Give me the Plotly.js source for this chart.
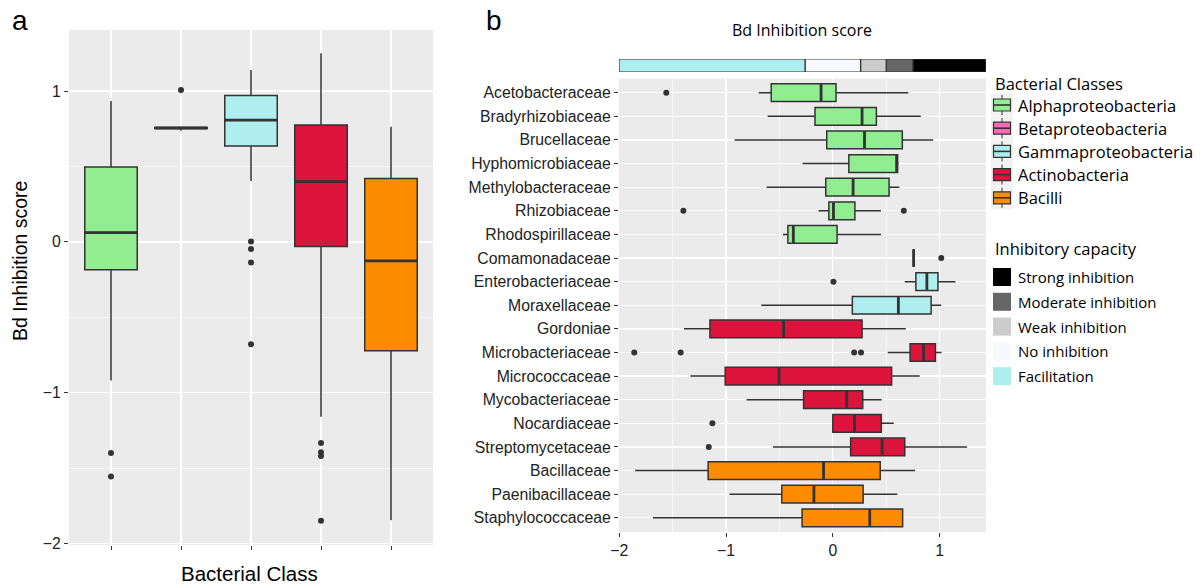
<!DOCTYPE html>
<html><head><meta charset="utf-8">
<script src="https://cdn.plot.ly/plotly-3.0.1.min.js"></script>
<style>html,body{margin:0;padding:0;background:#fff}#chart{width:1200px;height:585px}</style>
</head><body><div id="chart"></div>
<script>
// ---------- Panel a: Bacterial classes ----------
const classNames = ['Alphaproteobacteria','Betaproteobacteria','Gammaproteobacteria','Actinobacteria','Bacilli'];
const classColors = ['#90EE90','#FF69B4','#AFEEEE','#DC143C','#FF8C00'];
const classQ1     = [-0.185, 0.752, 0.636, -0.031, -0.722];
const classMedian = [ 0.062, 0.755, 0.808,  0.400, -0.126];
const classQ3     = [ 0.497, 0.758, 0.971,  0.775,  0.420];
const classLower  = [-0.920, 0.737, 0.404, -1.160, -1.846];
const classUpper  = [ 0.934, 0.758, 1.140,  1.250,  0.764];
const classOutliers = [[-1.40,-1.556],[1.007],[0.002,-0.048,-0.137,-0.678],[-1.333,-1.395,-1.42,-1.85],[]];

// ---------- Panel b: Bacterial families ----------
const families = ['Acetobacteraceae','Bradyrhizobiaceae','Brucellaceae','Hyphomicrobiaceae','Methylobacteraceae','Rhizobiaceae','Rhodospirillaceae','Comamonadaceae','Enterobacteriaceae','Moraxellaceae','Gordoniae','Microbacteriaceae','Micrococcaceae','Mycobacteriaceae','Nocardiaceae','Streptomycetaceae','Bacillaceae','Paenibacillaceae','Staphylococcaceae'];
const familyClass = [0,0,0,0,0,0,0,1,2,2,3,3,3,3,3,3,4,4,4];
const famQ1     = [-0.577,-0.167,-0.057,0.150,-0.066,-0.037,-0.421,0.757,0.778,0.183,-1.151,0.724,-1.008,-0.274,0.000,0.167,-1.168,-0.478,-0.288];
const famMedian = [-0.110,0.274,0.297,0.598,0.190,0.006,-0.370,0.757,0.881,0.614,-0.461,0.851,-0.504,0.130,0.204,0.461,-0.087,-0.177,0.346];
const famQ3     = [0.030,0.408,0.651,0.607,0.527,0.207,0.040,0.757,0.985,0.921,0.274,0.961,0.551,0.280,0.454,0.674,0.444,0.284,0.654];
const famLower  = [-0.694,-0.611,-0.921,-0.284,-0.621,-0.134,-0.467,0.757,0.674,-0.671,-1.395,0.514,-1.335,-0.808,0.000,-0.561,-1.852,-0.968,-1.686];
const famUpper  = [0.707,0.824,0.941,0.617,0.624,0.451,0.451,0.757,1.149,1.015,0.684,1.018,0.814,0.457,0.571,1.258,0.771,0.604,0.660];
const famOutliers = [[-1.56],[],[],[],[],[-1.40,0.665],[],[1.016],[0.006],[],[],[-1.86,-1.425,0.20,0.264],[],[],[-1.128],[-1.162],[],[],[]];

// ---------- Inhibitory capacity scale ----------
const capLabels = ['Strong inhibition','Moderate inhibition','Weak inhibition','No inhibition','Facilitation'];
const capColors = ['#000000','#666666','#CCCCCC','#F8F8FF','#AFEEEE'];
const capFrom   = [0.75, 0.50, 0.26, -0.26, -2.003];
const capTo     = [1.435, 0.75, 0.50, 0.26, -0.26];

const LINE = '#333333';
const BOXW = 0.75;
const axisFont = {family:'Liberation Sans, Arial, sans-serif', size:15.8, color:'#222222'};
const legFont = 'Open Sans, sans-serif';
const PX = x => x/1200;
const PY = y => 1 - y/585;

const traces = [];

// Panel a boxes
classNames.forEach((n,i)=>{
  traces.push({type:'box', xaxis:'x', yaxis:'y', x:[i+1], q1:[classQ1[i]], median:[classMedian[i]], q3:[classQ3[i]],
    lowerfence:[classLower[i]], upperfence:[classUpper[i]], width:BOXW, whiskerwidth:0,
    fillcolor:classColors[i], line:{color:LINE,width:1.5}, showlegend:false, hoverinfo:'skip'});
});
// Panel a thick medians and outliers
(function(){
  const mx=[], my=[];
  classMedian.forEach((m,i)=>{ mx.push(i+1-BOXW/2, i+1+BOXW/2, null); my.push(m,m,null); });
  traces.push({type:'scatter', mode:'lines', xaxis:'x', yaxis:'y', x:mx, y:my, line:{color:LINE,width:2.8}, showlegend:false, hoverinfo:'skip'});
  const ox=[], oy=[];
  classOutliers.forEach((arr,i)=>arr.forEach(v=>{ox.push(i+1); oy.push(v);}));
  traces.push({type:'scatter', mode:'markers', xaxis:'x', yaxis:'y', x:ox, y:oy, marker:{color:LINE,size:6}, showlegend:false, hoverinfo:'skip'});
})();

// Panel b boxes, one trace per class
classNames.forEach((n,c)=>{
  const idx = families.map((f,i)=>i).filter(i=>familyClass[i]===c);
  traces.push({type:'box', orientation:'h', xaxis:'x2', yaxis:'y2', y:idx.map(i=>i+1),
    q1:idx.map(i=>famQ1[i]), median:idx.map(i=>famMedian[i]), q3:idx.map(i=>famQ3[i]),
    lowerfence:idx.map(i=>famLower[i]), upperfence:idx.map(i=>famUpper[i]), width:BOXW, whiskerwidth:0,
    fillcolor:classColors[c], line:{color:LINE,width:1.5}, showlegend:false, hoverinfo:'skip'});
});
(function(){
  const mx=[], my=[];
  famMedian.forEach((m,i)=>{ my.push(i+1-BOXW/2, i+1+BOXW/2, null); mx.push(m,m,null); });
  traces.push({type:'scatter', mode:'lines', xaxis:'x2', yaxis:'y2', x:mx, y:my, line:{color:LINE,width:2.8}, showlegend:false, hoverinfo:'skip'});
  const ox=[], oy=[];
  famOutliers.forEach((arr,i)=>arr.forEach(v=>{oy.push(i+1); ox.push(v);}));
  traces.push({type:'scatter', mode:'markers', xaxis:'x2', yaxis:'y2', x:ox, y:oy, marker:{color:LINE,size:6}, showlegend:false, hoverinfo:'skip'});
})();

// Inhibition scale bar
traces.push({type:'bar', orientation:'h', xaxis:'x3', yaxis:'y3', y:capLabels.map(()=>0), base:capFrom,
  x:capFrom.map((f,i)=>capTo[i]-f), width:1, marker:{color:capColors, line:{color:LINE,width:1.2}},
  cliponaxis:false, showlegend:false, hoverinfo:'skip'});

const gridMajor = {showgrid:true, gridcolor:'#FFFFFF', gridwidth:1.3, zeroline:false, showline:false,
  ticks:'outside', ticklen:4, tickwidth:1, tickcolor:LINE, tickfont:axisFont};
const minorGrid = v => ({tickvals:v, showgrid:true, gridcolor:'#FFFFFF', gridwidth:0.6, ticks:''});

const layout = {
  width:1200, height:585, margin:{l:0,r:0,t:0,b:0}, paper_bgcolor:'#FFFFFF', plot_bgcolor:'#EBEBEB',
  showlegend:false, barmode:'overlay',
  xaxis: Object.assign({}, gridMajor, {domain:[PX(69),PX(433)], range:[0.4,5.6], tickmode:'array',
    tickvals:[1,2,3,4,5], ticktext:['','','','',''], anchor:'y'}),
  yaxis: Object.assign({}, gridMajor, {domain:[PY(545),PY(30)], range:[-2.01,1.405], tickmode:'array',
    tickvals:[-2,-1,0,1], minor:minorGrid([-1.5,-0.5,0.5]), anchor:'x'}),
  xaxis2: Object.assign({}, gridMajor, {domain:[PX(619),PX(986)], range:[-2.003,1.435], tickmode:'array',
    tickvals:[-2,-1,0,1], minor:minorGrid([-1.5,-0.5,0.5]), anchor:'y2'}),
  yaxis2: Object.assign({}, gridMajor, {domain:[PY(532),PY(78.5)], range:[19.6,0.4], tickmode:'array',
    tickvals:families.map((f,i)=>i+1), ticktext:families, anchor:'x2'}),
  xaxis3: {domain:[PX(619),PX(986)], range:[-2.003,1.435], visible:false, anchor:'y3', fixedrange:true},
  yaxis3: {domain:[PY(72),PY(59)], range:[-0.5,0.5], visible:false, anchor:'x3', fixedrange:true},
  annotations:[], shapes:[]
};

const A = layout.annotations, S = layout.shapes;
A.push({text:'a', x:PX(10), y:PY(21), xref:'paper', yref:'paper', xanchor:'left', yanchor:'middle', showarrow:false,
  font:{family:'Liberation Sans, Arial, sans-serif', size:28, color:'#000'}});
A.push({text:'b', x:PX(484), y:PY(21), xref:'paper', yref:'paper', xanchor:'left', yanchor:'middle', showarrow:false,
  font:{family:'Liberation Sans, Arial, sans-serif', size:28, color:'#000'}});
A.push({text:'Bd Inhibition score', x:PX(20), y:PY(261), xref:'paper', yref:'paper', xanchor:'center', yanchor:'middle',
  textangle:-90, showarrow:false, font:{family:'Liberation Sans, Arial, sans-serif', size:19.5, color:'#000'}});
A.push({text:'Bacterial Class', x:PX(249), y:PY(573), xref:'paper', yref:'paper', xanchor:'center', yanchor:'middle',
  showarrow:false, font:{family:'Liberation Sans, Arial, sans-serif', size:20.5, color:'#000'}});
A.push({text:'Bd Inhibition score', x:PX(802), y:PY(30), xref:'paper', yref:'paper', xanchor:'center', yanchor:'middle',
  showarrow:false, font:{family:legFont, size:16, color:'#000'}});

// Legend: Bacterial Classes
A.push({text:'Bacterial Classes', x:PX(993), y:PY(84), xref:'paper', yref:'paper', xanchor:'left', yanchor:'middle',
  showarrow:false, font:{family:legFont, size:16.5, color:'#000'}});
classNames.forEach((n,i)=>{
  const yc = 105 + i*23.2;
  S.push({type:'rect', xref:'paper', yref:'paper', x0:PX(991), x1:PX(1013), y0:PY(yc+11.5), y1:PY(yc-11.5), fillcolor:'#F2F2F2', line:{width:0}});
  S.push({type:'line', xref:'paper', yref:'paper', x0:PX(1002), x1:PX(1002), y0:PY(yc+10), y1:PY(yc-10), line:{color:LINE,width:1}});
  S.push({type:'rect', xref:'paper', yref:'paper', x0:PX(993.5), x1:PX(1010.5), y0:PY(yc+6), y1:PY(yc-6), fillcolor:classColors[i], line:{color:LINE,width:1.2}});
  S.push({type:'line', xref:'paper', yref:'paper', x0:PX(993.5), x1:PX(1010.5), y0:PY(yc), y1:PY(yc), line:{color:LINE,width:1.6}});
  A.push({text:n, x:PX(1016), y:PY(yc), xref:'paper', yref:'paper', xanchor:'left', yanchor:'middle', showarrow:false,
    font:{family:legFont, size:16.5, color:'#000'}});
});
// Legend: Inhibitory capacity
A.push({text:'Inhibitory capacity', x:PX(993), y:PY(248), xref:'paper', yref:'paper', xanchor:'left', yanchor:'middle',
  showarrow:false, font:{family:legFont, size:16.5, color:'#000'}});
capLabels.forEach((n,i)=>{
  const yc = 277 + i*24.8;
  S.push({type:'rect', xref:'paper', yref:'paper', x0:PX(993), x1:PX(1011), y0:PY(yc+9), y1:PY(yc-9), fillcolor:capColors[i], line:{width:0}});
  A.push({text:n, x:PX(1016), y:PY(yc), xref:'paper', yref:'paper', xanchor:'left', yanchor:'middle', showarrow:false,
    font:{family:legFont, size:15, color:'#000'}});
});

Plotly.newPlot('chart', traces, layout, {staticPlot:true, displayModeBar:false});
</script>
</body></html>
